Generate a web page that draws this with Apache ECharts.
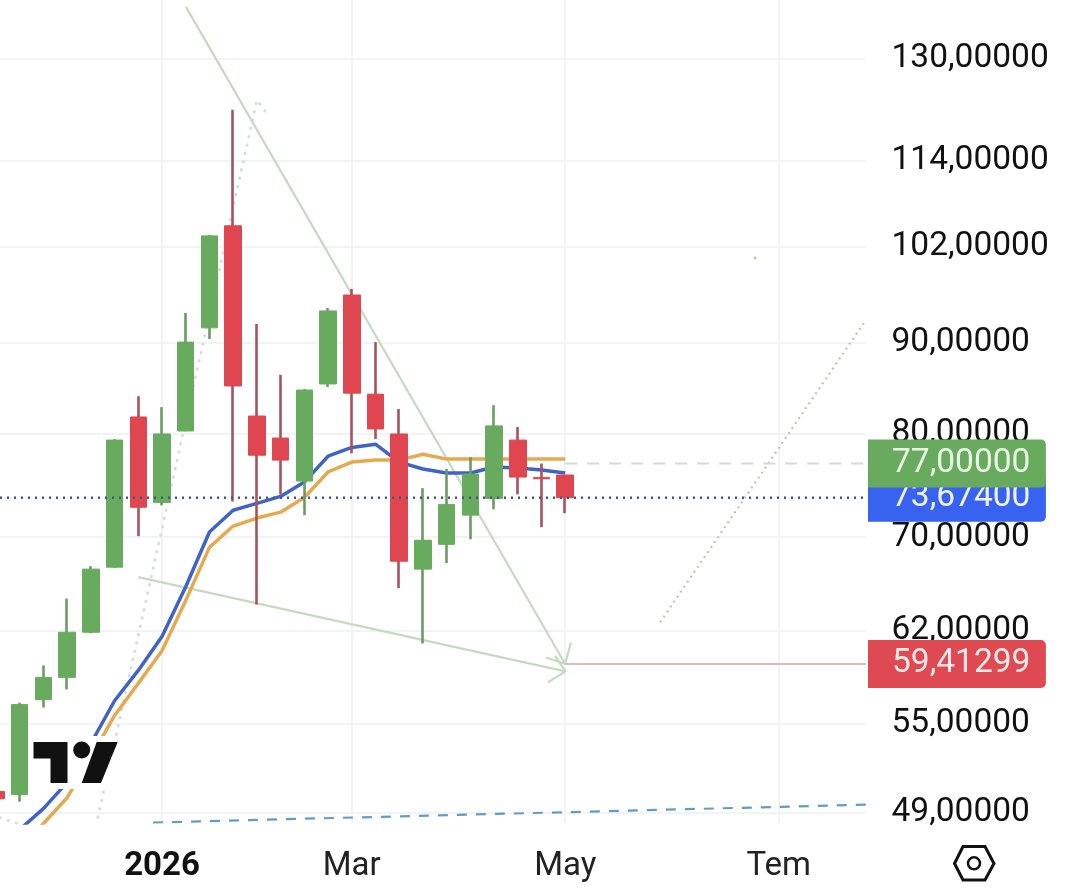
<!DOCTYPE html>
<html><head><meta charset="utf-8">
<style>html,body{margin:0;padding:0;background:#fff}#c{width:1080px;height:893px}</style>
<script src="https://cdn.jsdelivr.net/npm/echarts@6/dist/echarts.min.js"></script>
</head><body><div id="c"></div>
<script>
// x is counted in weeks from the first week of 2026
const weeks = [-7,-6,-5,-4,-3,-2,-1,0,1,2,3,4,5,6,7,8,9,10,11,12,13,14,15,16,17];
const opens  = [50.37,50.17,56.73,58.39,61.90,67.34,81.79,73.23,80.32,91.79,104.75,81.89,79.59,75.28,85.36,95.77,84.24,80.01,67.17,69.36,72.03,73.61,79.38,75.62,75.87];
const closes = [49.90,56.37,58.39,61.90,67.17,79.38,72.77,80.01,90.11,103.39,85.14,77.84,77.35,84.69,93.82,84.35,80.53,67.86,69.73,73.04,75.97,80.85,75.67,75.50,73.674];
const lows   = [49.90,49.71,56.15,57.48,61.82,67.30,70.10,72.95,80.30,90.47,73.32,64.17,74.00,72.03,85.03,78.03,79.48,65.53,61.01,67.69,69.82,72.58,74.00,70.92,72.21];
const highs  = [50.37,56.51,59.30,64.66,67.43,79.48,84.02,82.84,93.58,103.53,121.72,92.26,86.37,84.80,94.17,96.53,90.11,82.63,74.59,76.46,77.64,83.05,80.74,77.00,75.87];
const maFast = [null,47.95,49.27,50.97,53.60,56.65,58.92,61.57,65.66,70.47,72.49,73.13,73.80,75.18,77.74,78.63,78.96,77.15,76.46,76.07,76.07,76.66,76.56,76.36,76.07];
const maSlow = [null,46.95,48.33,49.97,52.63,55.58,57.94,60.44,64.49,69.09,71.02,71.76,72.31,73.70,76.17,77.15,77.35,77.35,77.94,77.45,77.45,77.45,77.45,77.45,77.45];

const yTicks = [49,55,62,70,80,90,102,114,130];
const xTicks = [0,8,17,26];
const xTickLabels = ['2026','Mar','May','Tem'];
const xMin = -6.83, xMax = 29.68;
const yMin = 48.36, yMax = 140.3;

const trendA = [[1.01,139.06],[17,59.41]];
const trendAHead = [[17.24,61.09],[17,59.41],[16.19,59.91]];
const trendB = [[-1,66.48],[17,58.85]];
const trendBHead = [[16.57,60.06],[17,58.85],[16.27,58.01]];
const paleDots = [[-2.70,48.71],[4,123.27],[4.43,121.11]];
const paleDotsLeft = [[-6.83,48.71],[-6.11,48.33]];
const projection = [[21,62.71],[29.68,92.74]];
const supportDash = [[-0.38,48.39],[29.68,49.52]];
const strayDot = [[25,100.47]];
const lastPrice = 73.674, upperLevel = 77, lowerLevel = 59.41299;

const fmt = v => Number(v).toFixed(5).replace('.', ',');
const FONT = 'Roboto';
const plain = (data, color, width, type, z, cap) => ({type:'line', data, symbol:'none', silent:true, z:z||2,
  lineStyle:{color, width, type:type||'solid', cap:cap||'butt'}});
const tagLine = (data, color, width, type, bg, txt, val, z) => ({type:'line', data, symbol:'none', silent:true, z,
  lineStyle:{color, width, type},
  endLabel:{show:true, formatter:()=>fmt(val), distance:2, color:txt, fontFamily:FONT, fontSize:33.5, lineHeight:34,
    backgroundColor:bg, borderRadius:[0,5,5,0], padding:[7,15.5,7,24], align:'left', verticalAlign:'middle'}});

const candleData = weeks.map((d,i)=>[d,opens[i],closes[i],lows[i],highs[i]]);
const bodyData = weeks.map((d,i)=>[d,opens[i],closes[i],Math.min(opens[i],closes[i]),Math.max(opens[i],closes[i])]);

const chart = echarts.init(document.getElementById('c'), null, {renderer:'canvas'});
chart.setOption({
  animation:false, backgroundColor:'#fff',
  grid:{left:0, top:0, width:866, height:823, containLabel:false},
  xAxis:{type:'value', min:xMin, max:xMax,
    axisLine:{show:false}, axisTick:{show:false, customValues:xTicks},
    splitLine:{show:true, lineStyle:{color:'#f2f3f5', width:2}},
    axisLabel:{customValues:xTicks, margin:27, fontFamily:FONT, fontSize:33, color:'#222', hideOverlap:false,
      formatter:v=>{const i=xTicks.indexOf(+v); const t=xTickLabels[i]; return i===0?'{b|'+t+'}':t;},
      rich:{b:{fontFamily:FONT,fontSize:33,fontWeight:'bold',color:'#111'}}}},
  yAxis:{type:'log', logBase:10, min:yMin, max:yMax, position:'right',
    axisLine:{show:false}, axisTick:{show:false, customValues:yTicks},
    splitLine:{show:true, lineStyle:{color:'#f2f3f5', width:2}},
    minorSplitLine:{show:false},
    axisLabel:{customValues:yTicks, margin:25.5, fontFamily:FONT, fontSize:33.5, color:'#111', align:'left', padding:[0,0,9,0], hideOverlap:false, formatter:fmt}},
  series:[
    plain(paleDots,'#d3deec',3,[0.5,8],2,'round'),
    plain(paleDotsLeft,'#d3deec',3,[0.5,8],2,'round'),
    plain(trendA,'#c4dbbf',2.2,'solid',2),
    plain(trendAHead,'#c4dbbf',2.2,'solid',2),
    plain(trendB,'#c4dbbf',2.2,'solid',2),
    plain(trendBHead,'#c4dbbf',2.2,'solid',2),
    plain(projection,'#c6c2ae',2.2,[2,4],2),
    plain(supportDash,'#5f9ec4',2.2,[10,9],2),
    {type:'scatter', data:strayDot, symbolSize:3, silent:true, itemStyle:{color:'#c8b070'}, z:2},
    tagLine([[17,lowerLevel],[xMax,lowerLevel]],'#d9bcbc',2,'solid','#df4a52','#fbe8e8',lowerLevel,3),
    plain(weeks.map((d,i)=>[d,maFast[i]]).slice(1),'#3f63c8',3.5,'solid',3),
    plain(weeks.map((d,i)=>[d,maSlow[i]]).slice(1),'#e6a94f',3.5,'solid',3),
    {type:'candlestick', data:candleData, barWidth:1, silent:true, z:4,
      itemStyle:{color:'#a8525c',color0:'#a8525c',borderColor:'#6a9c62',borderColor0:'#a8525c',borderWidth:2.6}},
    {type:'candlestick', data:bodyData, barWidth:17, silent:true, z:5,
      itemStyle:{color:'#68ab5f',color0:'#e0464f',borderColor:'#68ab5f',borderColor0:'#e0464f',borderWidth:1}},
    tagLine([[xMin,lastPrice],[xMax,lastPrice]],'#3d5a80',2.4,[2,5],'#3862f0','#eef3ff',lastPrice,6),
    tagLine([[17,upperLevel],[xMax,upperLevel]],'#d8d8d8',2,[12,10],'#68ab5f','#eaf6e4',upperLevel,7)
  ],
  graphic:[
    {type:'rect', z:100, shape:{x:30,y:736,width:91,height:53}, style:{fill:'#fff'}},
    {type:'polygon', z:101, shape:{points:[[33.5,742],[67.5,742],[67.5,783],[50.5,783],[50.5,758.5],[33.5,758.5]]}, style:{fill:'#111'}},
    {type:'circle', z:101, shape:{cx:81.7,cy:750,r:8.5}, style:{fill:'#111'}},
    {type:'polygon', z:101, shape:{points:[[96.7,742],[117.7,742],[101,783],[81.7,783]]}, style:{fill:'#111'}},
    {type:'polygon', z:101, shape:{points:[[954.5,863.5],[963,846.5],[985,846.5],[994,863.5],[985,880],[963,880]]}, style:{fill:'none',stroke:'#111',lineWidth:3}},
    {type:'circle', z:101, shape:{cx:974,cy:863.3,r:6}, style:{fill:'none',stroke:'#111',lineWidth:2.5}}
  ]
});
</script></body></html>
